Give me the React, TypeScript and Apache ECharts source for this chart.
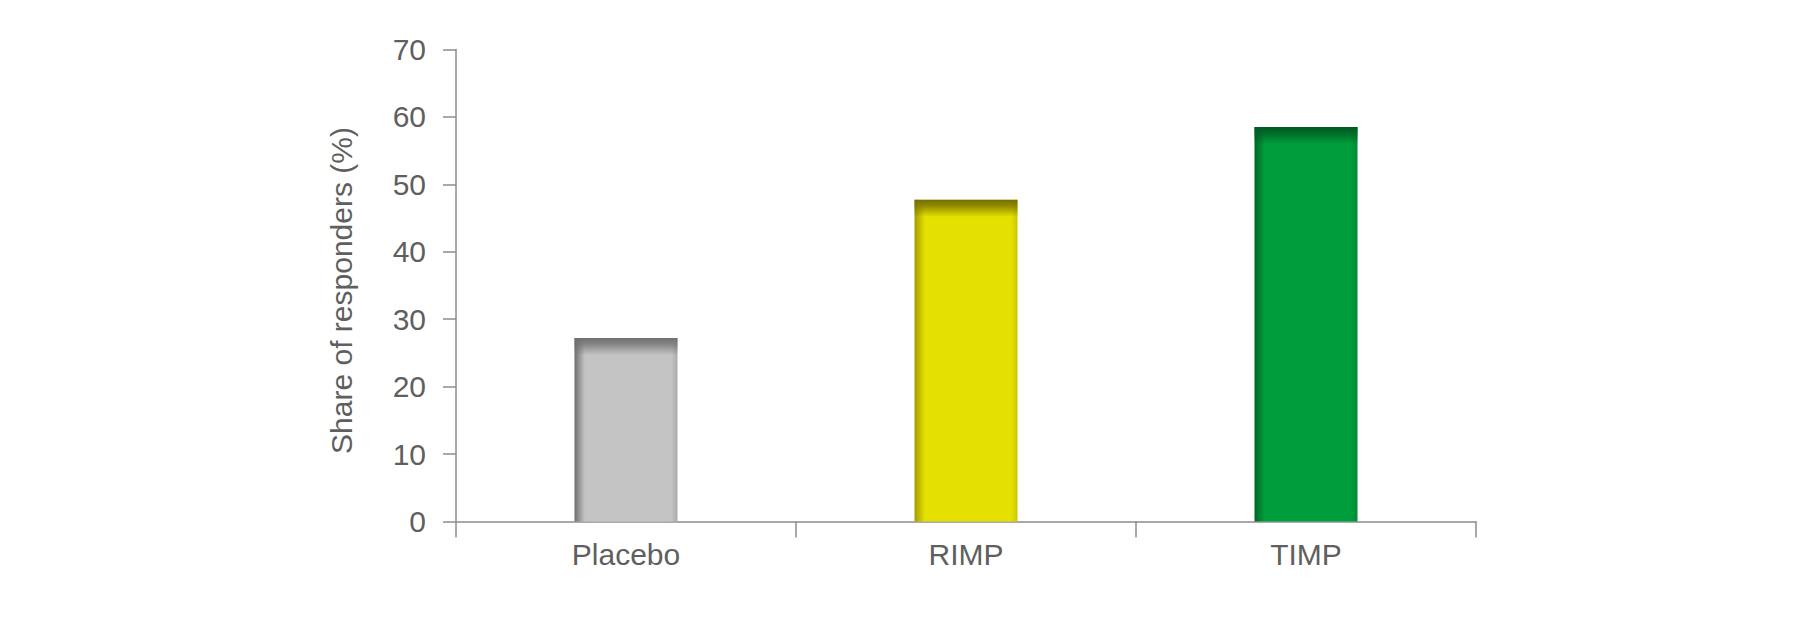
import { useEffect, useRef } from "react"
import * as echarts from "echarts"

const categories = ["Placebo", "RIMP", "TIMP"]
const responders = [27.2, 47.7, 58.5]
const yTicks = { min: 0, max: 70, interval: 10 }
const axisTitle = "Share of responders (%)"

// main colour, dark left edge, slightly darker right edge, dark top band
const barColors = [
  { main: "#c4c4c4", left: "#6e6e6e", right: "#a9a9a9", top: "112,112,112" },
  { main: "#e4e000", left: "#a39c00", right: "#cbc700", top: "118,110,0" },
  { main: "#009d3c", left: "#006526", right: "#008a34", top: "0,90,34" },
]

const font = "'Liberation Sans', Arial, Helvetica, sans-serif"
const textColor = "#5f5f5f"
const lineColor = "#8c8c8c"

export default function App() {
  const chartRef = useRef<HTMLDivElement>(null)

  useEffect(() => {
    if (!chartRef.current) return
    const chart = echarts.init(chartRef.current, null, { renderer: "svg" })

    const gridTop = 49.5
    const gridBottom = 102.5
    const plotHeight = 624 - gridTop - gridBottom
    const pxPerUnit = plotHeight / (yTicks.max - yTicks.min)

    const option: echarts.EChartsOption = {
      animation: false,
      backgroundColor: "#ffffff",
      grid: { left: 456, right: 340, top: gridTop, bottom: gridBottom, outerBoundsMode: "none" } as any,
      xAxis: {
        type: "category",
        data: categories,
        axisLine: { lineStyle: { color: lineColor, width: 1.5 } },
        axisTick: { show: true, length: 16, alignWithLabel: false, lineStyle: { color: lineColor, width: 1.5 } },
        axisLabel: { fontSize: 30, color: textColor, fontFamily: font, margin: 18 },
      },
      yAxis: {
        type: "value",
        min: yTicks.min,
        max: yTicks.max,
        interval: yTicks.interval,
        name: axisTitle,
        nameLocation: "middle",
        nameGap: 100,
        nameTextStyle: { fontSize: 30, color: textColor, fontFamily: font, padding: [0, 10, 0, 0] },
        axisLine: { show: true, lineStyle: { color: lineColor, width: 1.5 } },
        axisTick: { show: true, length: 13, lineStyle: { color: lineColor, width: 1.5 } },
        splitLine: { show: false },
        axisLabel: { fontSize: 30, color: textColor, fontFamily: font, margin: 30 },
      },
      series: [
        {
          type: "bar",
          barWidth: 103,
          barGap: "-100%",
          data: responders.map((v, i) => ({
            value: v,
            itemStyle: {
              color: new echarts.graphic.LinearGradient(0, 0, 1, 0, [
                { offset: 0, color: barColors[i].left },
                { offset: 0.1, color: barColors[i].main },
                { offset: 0.94, color: barColors[i].main },
                { offset: 1, color: barColors[i].right },
              ]),
            },
          })),
        },
        {
          type: "bar",
          barWidth: 103,
          barGap: "-100%",
          silent: true,
          data: responders.map((v, i) => {
            const f = Math.min(1, 17 / (v * pxPerUnit))
            const c = barColors[i].top
            return {
              value: v,
              itemStyle: {
                color: new echarts.graphic.LinearGradient(0, 0, 0, 1, [
                  { offset: 0, color: `rgba(${c},1)` },
                  { offset: f * 0.35, color: `rgba(${c},0.75)` },
                  { offset: f, color: `rgba(${c},0)` },
                  { offset: 1, color: `rgba(${c},0)` },
                ]),
              },
            }
          }),
        },
      ],
    }

    chart.setOption(option)
    const handleResize = () => chart.resize()
    window.addEventListener("resize", handleResize)
    return () => {
      window.removeEventListener("resize", handleResize)
      chart.dispose()
    }
  }, [])

  return (
    <div
      ref={chartRef}
      style={{ position: "fixed", left: 0, top: 0, width: "1816px", height: "624px" }}
    />
  )
}
